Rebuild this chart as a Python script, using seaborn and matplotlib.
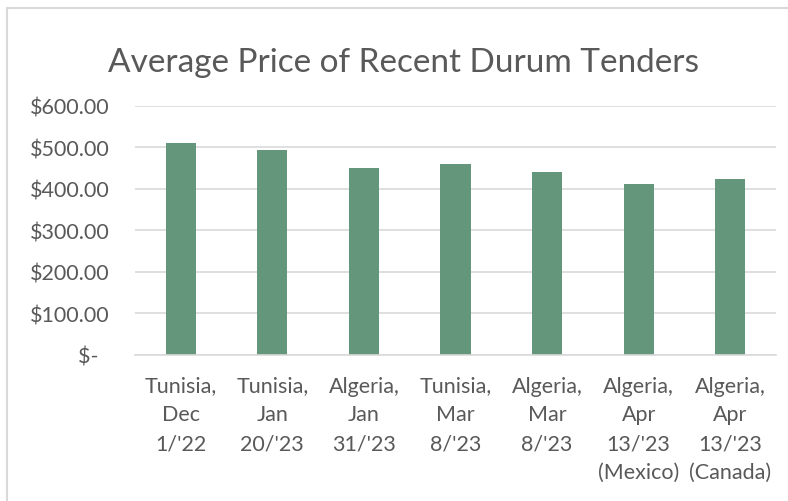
import matplotlib
matplotlib.use("Agg")
import matplotlib.pyplot as plt
import seaborn as sns
import pandas as pd
from matplotlib.lines import Line2D

categories = ["Tunisia,\nDec\n1/'22", "Tunisia,\nJan\n20/'23", "Algeria,\nJan\n31/'23",
              "Tunisia,\nMar\n8/'23", "Algeria,\nMar\n8/'23", "Algeria,\nApr\n13/'23\n(Mexico)",
              "Algeria,\nApr\n13/'23\n(Canada)"]
prices = [509, 493, 450, 459, 441, 412, 424]
y_ticks = [0, 100, 200, 300, 400, 500, 600]
y_tick_labels = ["$-  ", "$100.00", "$200.00", "$300.00", "$400.00", "$500.00", "$600.00"]
title = "Average Price of Recent Durum Tenders"

sns.set_theme(style="white")
plt.rcParams['font.family'] = ['Lato', 'DejaVu Sans']

TEXT = "#595959"
GRID = "#d9d9d9"
BAR = "#63967A"

df = pd.DataFrame({"tender": categories, "price": prices})

fig = plt.figure(figsize=(7.88, 5.02), dpi=100)
ax = fig.add_axes([135/788, 1-355.7/502, (776-135)/788, (355.7-106.7)/502])
sns.barplot(data=df, x="tender", y="price", color=BAR, width=0.33, ax=ax,
            saturation=1, edgecolor="none")
ax.set_ylim(0, 600)
ax.set_xlim(-0.5, len(categories)-0.5)
ax.set_yticks(y_ticks)
ax.set_yticklabels(y_tick_labels)
ax.set_xlabel("")
ax.set_ylabel("")
ax.yaxis.grid(True, color=GRID, linewidth=1.2)
ax.set_axisbelow(True)
for s in ["top", "right", "left"]:
    ax.spines[s].set_visible(False)
ax.spines["bottom"].set_color(GRID)
ax.spines["bottom"].set_linewidth(1.2)
ax.tick_params(axis="both", length=0, labelsize=15.5, colors=TEXT)
ax.tick_params(axis="y", pad=18)
ax.tick_params(axis="x", pad=15)
for lab in ax.get_xticklabels():
    lab.set_linespacing(1.55)

fig.text(403.5/788, 1-72/502, title, ha="center", va="baseline", fontsize=24, color=TEXT)

fig.add_artist(Line2D([7/788, 7/788], [0, 1-9/502], color=GRID, linewidth=1.5, transform=fig.transFigure))
fig.add_artist(Line2D([7/788, 1], [1-9/502, 1-9/502], color=GRID, linewidth=1.5, transform=fig.transFigure))

fig.savefig("out.png", dpi=100, facecolor="white")
